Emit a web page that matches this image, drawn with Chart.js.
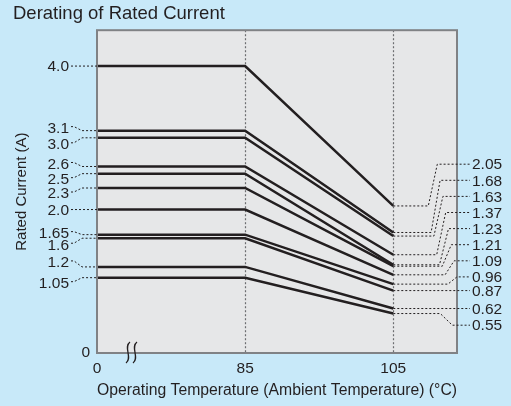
<!DOCTYPE html>
<html lang="en">
<head>
<meta charset="UTF-8" />
<title>Derating of Rated Current</title>
<script src="https://cdn.jsdelivr.net/npm/chart.js"></script>
<style>
  body { margin: 0; background: #c8e9f9; }
  .wrap { width: 511px; height: 406px; }
</style>
</head>
<body>
<div class="wrap"><canvas id="derating"></canvas></div>
<script>
  // rated current (flat from 0 to 85 °C) and the derated value at 105 °C
  const ratedCurrent = [4.0, 3.1, 3.0, 2.6, 2.5, 2.3, 2.0, 1.65, 1.6, 1.2, 1.05];
  const ratedLabels = ['4.0', '3.1', '3.0', '2.6', '2.5', '2.3', '2.0', '1.65', '1.6', '1.2', '1.05'];
  const current105 = [2.05, 1.68, 1.63, 1.37, 1.23, 1.21, 1.09, 0.96, 0.87, 0.62, 0.55];
  const current105Labels = ['2.05', '1.68', '1.63', '1.37', '1.23', '1.21', '1.09', '0.96', '0.87', '0.62', '0.55'];
  const temps = [0, 85, 85, 105];
  const tempTicks = [0, 85, 105];
  const tempMax = 113.6;
  const currentMax = 4.5;

  // broken axis: 0..85 gets the same width as 85..105
  const toAxis = t => t <= 85 ? t * 20 / 85 : 20 + (t - 85);

  const FONT = "'Liberation Sans', Arial, Helvetica, sans-serif";
  const INK = '#231f20';

  // label nudges (px) so the left labels don't collide
  const leftNudge = [0, -3, 6, -3, 5, 5, 0, -2, 6, -5, 5];

  const decor = {
    id: 'decor',
    beforeDraw(chart) {
      const { ctx, chartArea: a } = chart;
      ctx.save();
      ctx.fillStyle = '#e6e7e8';
      ctx.fillRect(a.left, a.top, a.right - a.left, a.bottom - a.top);
      ctx.restore();
    },
    beforeDatasetsDraw(chart) {
      const { ctx, chartArea: a, scales: { x } } = chart;
      ctx.save();
      ctx.strokeStyle = '#6d6e71';
      ctx.lineWidth = 1.2;
      ctx.setLineDash([2, 2]);
      [85, 105].forEach(t => {
        const px = Math.round(x.getPixelForValue(toAxis(t))) + 0.5;
        ctx.beginPath();
        ctx.moveTo(px, a.top);
        ctx.lineTo(px, a.bottom);
        ctx.stroke();
      });
      ctx.restore();
    },
    afterDraw(chart) {
      const { ctx, chartArea: a, scales: { x, y } } = chart;
      ctx.save();
      // frame
      ctx.strokeStyle = '#808285';
      ctx.lineWidth = 2;
      ctx.strokeRect(a.left, a.top, a.right - a.left, a.bottom - a.top);

      // axis break mark
      ctx.strokeStyle = INK;
      ctx.lineWidth = 1.3;
      [a.left + 31, a.left + 38].forEach(cx => {
        ctx.beginPath();
        ctx.moveTo(cx + 2, a.bottom - 11);
        ctx.bezierCurveTo(cx - 5, a.bottom - 6, cx + 5, a.bottom + 5, cx - 2, a.bottom + 10);
        ctx.stroke();
      });

      ctx.font = '15.5px ' + FONT;
      ctx.fillStyle = INK;
      ctx.textBaseline = 'middle';
      ctx.lineWidth = 1;
      ctx.setLineDash([2, 2]);

      // left labels with leaders
      ctx.textAlign = 'right';
      ratedCurrent.forEach((v, i) => {
        const ly = y.getPixelForValue(v);
        const ty = ly + leftNudge[i];
        ctx.fillText(ratedLabels[i], a.left - 28, ty + 1);
        ctx.beginPath();
        if (leftNudge[i] === 0) {
          ctx.moveTo(a.left - 26, ly);
        } else {
          ctx.moveTo(a.left - 26, ty - 1);
          ctx.lineTo(a.left - 23, ty - 1);
          ctx.lineTo(a.left - 15, ly);
        }
        ctx.lineTo(a.left, ly);
        ctx.stroke();
      });

      // right labels with leaders
      ctx.textAlign = 'left';
      const xEnd = x.getPixelForValue(toAxis(105));
      current105.forEach((v, i) => {
        const ly = y.getPixelForValue(v);
        let ty = a.top + 134 + i * 16.1;
        if (Math.abs(ty - ly) < 3.5) ty = ly;
        ctx.fillText(current105Labels[i], a.right + 15, ty + 1);
        ctx.beginPath();
        ctx.moveTo(xEnd, ly);
        if (ty !== ly) {
          let x1 = xEnd + 35 + 2.8 * i;
          let x2 = x1 + 9;
          if (ty > ly) { x1 = xEnd + 47; x2 = xEnd + 59; }
          ctx.lineTo(x1, ly);
          ctx.lineTo(x2, ty);
        }
        ctx.lineTo(a.right + 13, ty);
        ctx.stroke();
      });
      ctx.restore();
    }
  };

  const datasets = ratedCurrent.map((v, i) => ({
    label: ratedLabels[i],
    data: temps.map((t, k) => ({ x: toAxis(t), y: k < 3 ? v : current105[i] })),
    borderColor: INK,
    borderWidth: 2.5,
    pointRadius: 0,
    tension: 0
  }));

  new Chart(document.getElementById('derating'), {
    type: 'line',
    data: { datasets: datasets },
    options: {
      responsive: true,
      maintainAspectRatio: false,
      animation: false,
      layout: { padding: { left: 13, right: 54, top: 0, bottom: 0 } },
      plugins: {
        legend: { display: false },
        tooltip: { enabled: false },
        title: {
          display: true,
          text: 'Derating of Rated Current',
          align: 'start',
          color: INK,
          font: { family: FONT, size: 18.5, weight: 'normal' },
          padding: { top: 3, bottom: 5 }
        }
      },
      scales: {
        x: {
          type: 'linear',
          min: 0,
          max: toAxis(tempMax),
          grid: { display: false, drawTicks: false },
          border: { display: false },
          afterBuildTicks: s => { s.ticks = tempTicks.map(t => ({ value: toAxis(t) })); },
          afterFit: s => { s.height = 53; },
          ticks: {
            autoSkip: false,
            maxRotation: 0,
            padding: 6,
            color: INK,
            font: { family: FONT, size: 15.5 },
            callback: (val, idx) => String(tempTicks[idx])
          },
          title: {
            display: true,
            text: 'Operating Temperature (Ambient Temperature) (°C)',
            color: INK,
            font: { family: FONT, size: 16 },
            padding: { top: 0, bottom: 6 }
          }
        },
        y: {
          min: 0,
          max: currentMax,
          grid: { display: false, drawTicks: false },
          border: { display: false },
          afterBuildTicks: s => { s.ticks = [{ value: 0 }]; },
          afterFit: s => { s.width = 84; },
          ticks: {
            padding: 7,
            color: INK,
            font: { family: FONT, size: 15.5 }
          },
          title: {
            display: true,
            text: 'Rated Current (A)',
            color: INK,
            font: { family: FONT, size: 15 },
            padding: { top: 0, bottom: 0 }
          }
        }
      }
    },
    plugins: [decor]
  });
</script>
</body>
</html>
